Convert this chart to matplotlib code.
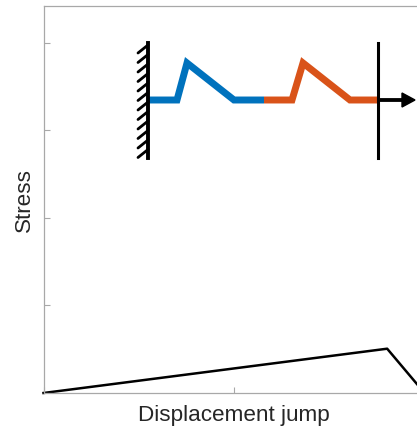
import numpy as np
import matplotlib
matplotlib.use("Agg")
import matplotlib.pyplot as plt

# traction-separation curve (x in [0,1], y in tick units)
law_x = [0.0, 0.902, 1.0]
law_y = [0.0, 0.506, 0.0]

# schematic of the cohesive zone (figure pixel coords)
blue_x = [148, 177, 187, 234, 264]
blue_y = [100, 100, 63, 100, 100]
orange_x = [264, 292, 303, 350, 378]
orange_y = [100, 100, 63, 100, 100]
wall_x = 148
wall_top, wall_bot = 43, 158
n_hatch = 12
cut_x = 378

W, H = 417, 432
fig = plt.figure(figsize=(W / 100, H / 100), dpi=100)
ax = fig.add_axes([43.5 / W, (H - 393) / H, 381 / W, (393 - 6) / H])
ax.plot(law_x, law_y, color="k", lw=1.8, clip_on=False)
ax.set_xlim(0, 1)
ax.set_ylim(0, 4.42)
ax.set_xticks([0, 0.5])
ax.set_yticks([1, 2, 3, 4])
ax.set_xticklabels([])
ax.set_yticklabels([])
ax.tick_params(direction="in", length=4, color="#a8a8a8", width=0.8)
for s in ax.spines.values():
    s.set_color("#a8a8a8")
    s.set_linewidth(0.9)
ax.set_xlabel("Displacement jump", fontsize=16.2, color="#262626",
              family="Liberation Sans", labelpad=5)
ax.set_ylabel("Stress", fontsize=16.2, color="#262626",
              family="Liberation Sans", labelpad=3)

# overlay axes in pixel coordinates for the schematic
ov = fig.add_axes([0, 0, 1, 1])
ov.set_xlim(0, W)
ov.set_ylim(H, 0)
ov.axis("off")
ov.plot(blue_x, blue_y, color="#0072BD", lw=5, solid_joinstyle="miter",
        solid_capstyle="butt")
ov.plot(orange_x, orange_y, color="#D95319", lw=5, solid_joinstyle="miter",
        solid_capstyle="butt")
ov.plot([wall_x, wall_x], [wall_top, wall_bot], color="k", lw=2.8)
for yy in np.linspace(wall_top + 2, wall_top + 2 + 9.5 * (n_hatch - 1), n_hatch):
    ov.plot([wall_x - 10, wall_x], [yy + 8, yy], color="k", lw=2.0,
            solid_capstyle="round")
ov.plot([cut_x, cut_x], [wall_top, wall_bot], color="k", lw=2.2)
ov.arrow(cut_x, 100, 37, 0, width=2.4, head_width=14, head_length=13,
         length_includes_head=True, color="k")

fig.savefig("out.png", dpi=100)
